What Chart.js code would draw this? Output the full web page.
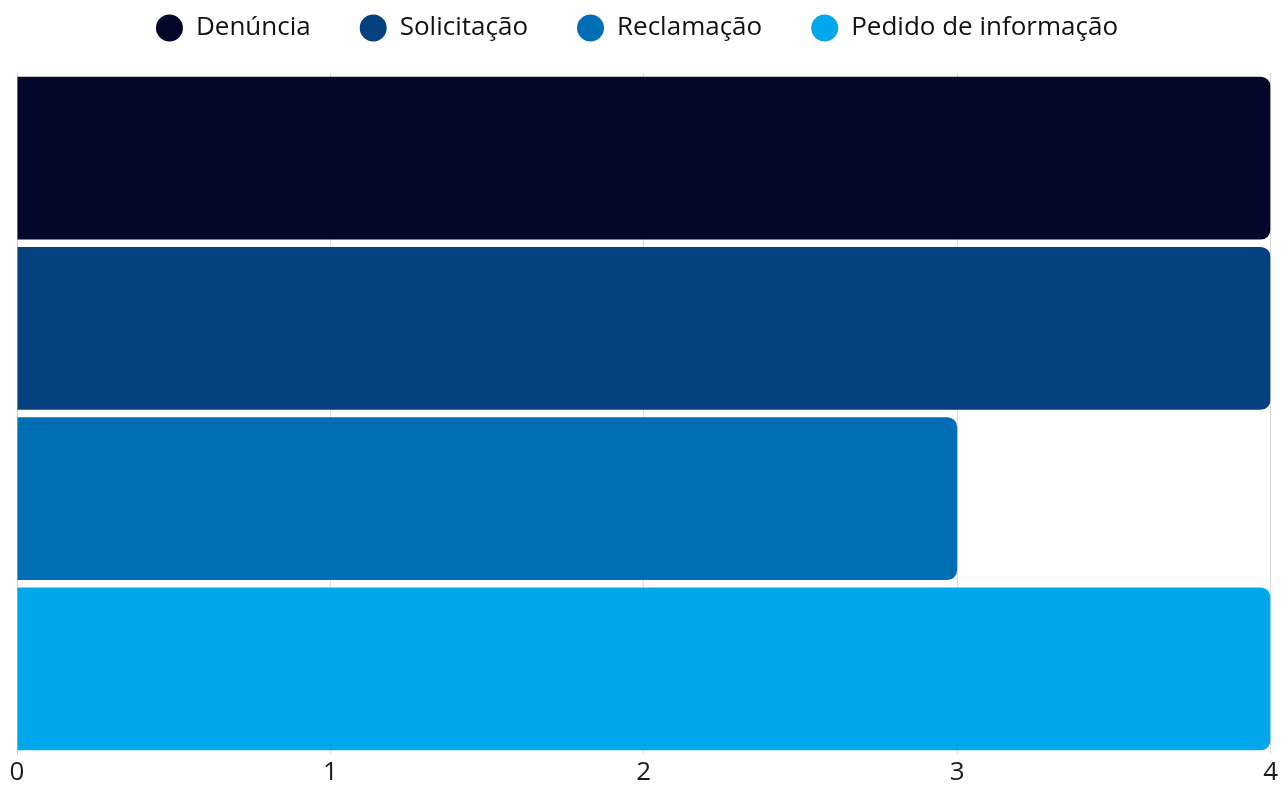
<!DOCTYPE html>
<html>
<head>
<meta charset="utf-8">
<script src="https://cdn.jsdelivr.net/npm/chart.js@4"></script>
<style>
  html, body { margin: 0; padding: 0; background: #fff; }
  #wrap { width: 1281px; height: 787px; }
</style>
</head>
<body>
<div id="wrap"><canvas id="chart"></canvas></div>
<script>
    'use strict';

    var categories = [''];
    var seriesNames = ['Denúncia', 'Solicitação', 'Reclamação', 'Pedido de informação'];
    var seriesValues = [[4], [4], [3], [4]];
    var seriesColors = ['#03082a', '#06417f', '#006eb5', '#00a8eb'];
    var tickLabels = ['0', '1', '2', '3', '4'];

    Chart.defaults.font.family = '"Open Sans", "Noto Sans", sans-serif';
    Chart.defaults.color = '#1a1a1a';

    // legend sits close to the top edge but keeps a tall block under it
    var legendHeight = {
        id: 'legendHeight',
        beforeInit: function(chart) {
            var fit = chart.legend.fit;
            chart.legend.fit = function() {
                fit.call(this);
                this.height = 107;
            };
        }
    };

    var ctx = document.getElementById('chart');
    new Chart(ctx, {
        type: 'bar',
        data: {
            labels: categories,
            datasets: seriesNames.map(function(name, i) {
                return {
                    label: name,
                    data: seriesValues[i],
                    backgroundColor: seriesColors[i],
                    borderWidth: 0,
                    borderRadius: 10,
                    borderSkipped: 'start',
                    categoryPercentage: 1,
                    barPercentage: 0.957
                };
            })
        },
        plugins: [legendHeight],
        options: {
            indexAxis: 'y',
            responsive: true,
            maintainAspectRatio: false,
            animation: false,
            layout: {
                padding: { left: 0, right: 7, top: -34, bottom: 0 }
            },
            scales: {
                x: {
                    min: 0,
                    max: 4,
                    grid: { color: '#dddddd', drawTicks: false },
                    border: { display: false },
                    ticks: {
                        stepSize: 1,
                        padding: 3,
                        font: { size: 26 },
                        callback: function(value, index) { return tickLabels[index]; }
                    },
                    afterFit: function(scale) { scale.height = 33; }
                },
                y: {
                    grid: { display: false },
                    border: { display: true, color: '#cccccc' },
                    ticks: { display: false },
                    afterFit: function(scale) { scale.width = 17; }
                }
            },
            plugins: {
                legend: {
                    position: 'top',
                    labels: {
                        usePointStyle: true,
                        pointStyle: 'circle',
                        boxHeight: 19,
                        pointStyleWidth: 27,
                        padding: 49,
                        color: '#111111',
                        font: { size: 26 }
                    }
                },
                tooltip: { enabled: false }
            }
        }
    });
</script>
</body>
</html>
